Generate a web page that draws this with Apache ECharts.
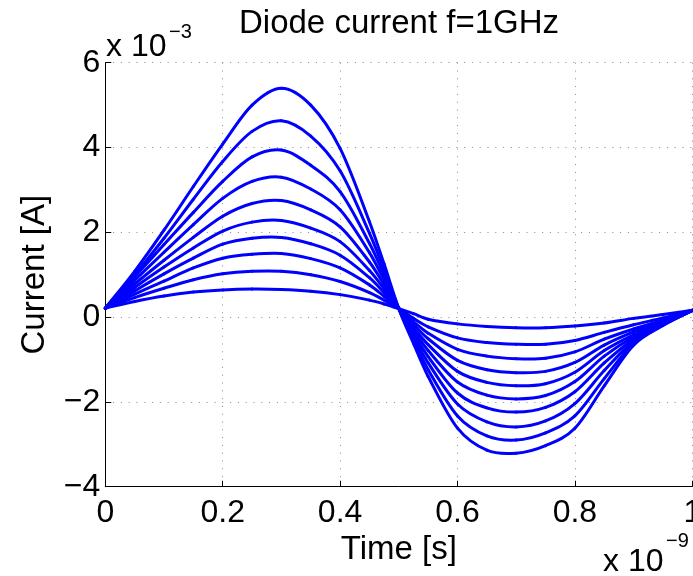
<!DOCTYPE html>
<html>
<head>
<meta charset="utf-8">
<script src="https://cdn.jsdelivr.net/npm/echarts@6/dist/echarts.min.js"></script>
<style>html,body{margin:0;padding:0;background:#fff;}#chart{width:693px;height:576px;}</style>
</head>
<body>
<div id="chart"></div>
<script>
// time in units of 1e-9 s, current in units of 1e-3 A
const time = [0, 0.05, 0.1, 0.15, 0.2, 0.25, 0.3, 0.35, 0.4, 0.45, 0.475, 0.5, 0.525, 0.55, 0.6, 0.65, 0.7, 0.75, 0.8, 0.85, 0.9, 0.95, 1.0];
const c1 = [0.21, 1.08, 2.05, 3.08, 4.08, 5.00, 5.40, 5.00, 3.98, 2.25, 1.25, 0.20, -0.62, -1.40, -2.62, -3.14, -3.21, -3.03, -2.62, -1.62, -0.66, -0.20, 0.16];
const c2 = [0.21, 1.00, 1.86, 2.78, 3.67, 4.38, 4.63, 4.27, 3.45, 1.98, 1.12, 0.20, -0.54, -1.24, -2.33, -2.80, -2.90, -2.73, -2.33, -1.45, -0.62, -0.19, 0.16];
const c3 = [0.21, 0.95, 1.71, 2.47, 3.20, 3.78, 3.94, 3.58, 2.96, 1.74, 1.00, 0.20, -0.46, -1.08, -2.05, -2.47, -2.59, -2.45, -2.04, -1.26, -0.57, -0.18, 0.16];
const c4 = [0.21, 0.87, 1.53, 2.18, 2.80, 3.20, 3.30, 3.02, 2.53, 1.52, 0.88, 0.20, -0.39, -0.93, -1.79, -2.14, -2.24, -2.13, -1.76, -1.08, -0.52, -0.16, 0.16];
const c5 = [0.21, 0.78, 1.34, 1.88, 2.38, 2.68, 2.75, 2.53, 2.13, 1.30, 0.77, 0.20, -0.32, -0.79, -1.53, -1.84, -1.93, -1.85, -1.52, -0.92, -0.47, -0.15, 0.16];
const c6 = [0.21, 0.70, 1.18, 1.63, 2.03, 2.24, 2.28, 2.10, 1.78, 1.10, 0.67, 0.20, -0.25, -0.65, -1.28, -1.54, -1.62, -1.57, -1.30, -0.79, -0.42, -0.13, 0.16];
const c7 = [0.21, 0.62, 1.02, 1.39, 1.72, 1.86, 1.88, 1.73, 1.46, 0.93, 0.58, 0.20, -0.18, -0.51, -1.02, -1.24, -1.31, -1.28, -1.07, -0.66, -0.35, -0.10, 0.16];
const c8 = [0.21, 0.54, 0.85, 1.16, 1.39, 1.48, 1.50, 1.38, 1.16, 0.76, 0.49, 0.20, -0.11, -0.38, -0.76, -0.92, -0.98, -0.97, -0.82, -0.52, -0.28, -0.07, 0.16];
const c9 = [0.21, 0.46, 0.68, 0.88, 1.02, 1.08, 1.08, 1.00, 0.84, 0.58, 0.40, 0.20, -0.03, -0.23, -0.49, -0.60, -0.64, -0.64, -0.55, -0.36, -0.18, -0.02, 0.16];
const c10 = [0.21, 0.37, 0.50, 0.59, 0.64, 0.66, 0.65, 0.61, 0.53, 0.40, 0.31, 0.20, 0.08, -0.05, -0.16, -0.22, -0.25, -0.25, -0.21, -0.14, -0.03, 0.06, 0.16];
const curves = [c1, c2, c3, c4, c5, c6, c7, c8, c9, c10];

const FONT = 'Liberation Sans, Arial, Helvetica, sans-serif';
const chart = echarts.init(document.getElementById('chart'), null, {renderer: 'canvas'});
const gridStyle = {color: '#8a8a8a', width: 1, type: [1, 6.8]};

// Smooth curve through the data points (cubic Hermite segments, positions from the axes via api.coord)
function curveSeries(vals, idx) {
  const n = time.length;
  return {
    type: 'custom',
    name: 'curve' + (idx + 1),
    coordinateSystem: 'cartesian2d',
    data: time.map((t, j) => [t, vals[j]]),
    clip: false,
    silent: true,
    renderItem: function (params, api) {
      const i = params.dataIndex;
      if (i >= n - 1) return {type: 'group', children: []};
      const P = k => api.coord([time[k], vals[k]]);
      const tangent = k => {
        const a = Math.max(k - 1, 0), b = Math.min(k + 1, n - 1);
        const pa = P(a), pb = P(b), dt = time[b] - time[a];
        return [(pb[0] - pa[0]) / dt, (pb[1] - pa[1]) / dt];
      };
      const p1 = P(i), p2 = P(i + 1), h = time[i + 1] - time[i];
      const m1 = tangent(i), m2 = tangent(i + 1);
      return {
        type: 'bezierCurve',
        shape: {
          x1: p1[0], y1: p1[1], x2: p2[0], y2: p2[1],
          cpx1: p1[0] + m1[0] * h / 3, cpy1: p1[1] + m1[1] * h / 3,
          cpx2: p2[0] - m2[0] * h / 3, cpy2: p2[1] - m2[1] * h / 3
        },
        style: {stroke: '#0000ff', lineWidth: 3, fill: 'none', lineCap: 'round', lineJoin: 'round'}
      };
    }
  };
}

chart.setOption({
  animation: false,
  backgroundColor: '#ffffff',
  title: {
    text: 'Diode current f=1GHz',
    left: 234, top: 2,
    textStyle: {fontFamily: FONT, fontSize: 33, fontWeight: 'normal', color: '#000'}
  },
  grid: {left: 105.3, top: 62.7, right: 0.7, bottom: 89.3, containLabel: false, outerBoundsMode: 'none'},
  xAxis: {
    type: 'value', min: 0, max: 1, interval: 0.2,
    name: 'Time [s]', nameLocation: 'middle', nameGap: 31,
    nameTextStyle: {fontFamily: FONT, fontSize: 33, color: '#000'},
    axisLine: {show: true, onZero: false, lineStyle: {color: '#000', width: 1}},
    axisTick: {show: true, inside: true, length: 6, lineStyle: {color: '#000'}},
    axisLabel: {fontFamily: FONT, fontSize: 32, color: '#000', margin: 10},
    splitLine: {show: true, lineStyle: gridStyle}
  },
  yAxis: {
    type: 'value', min: -4, max: 6, interval: 2,
    name: 'Current [A]', nameLocation: 'middle', nameGap: 54, nameRotate: 90,
    nameTextStyle: {fontFamily: FONT, fontSize: 33, color: '#000'},
    axisLine: {show: true, onZero: false, lineStyle: {color: '#000', width: 1}},
    axisTick: {show: true, inside: true, length: 6, lineStyle: {color: '#000'}},
    axisLabel: {fontFamily: FONT, fontSize: 32, color: '#000', margin: 5,
      formatter: v => String(v).replace('-', '\u2212')},
    splitLine: {show: true, lineStyle: gridStyle}
  },
  graphic: [
    {type: 'text', left: 106, top: 31, style: {text: 'x 10', font: '32px ' + FONT, fill: '#000'}},
    {type: 'text', left: 169, top: 22, style: {text: '\u22123', font: '20px ' + FONT, fill: '#000'}},
    {type: 'text', left: 603, top: 546, style: {text: 'x 10', font: '32px ' + FONT, fill: '#000'}},
    {type: 'text', left: 666, top: 531, style: {text: '\u22129', font: '20px ' + FONT, fill: '#000'}}
  ],
  series: curves.map((c, i) => curveSeries(c, i))
});
</script>
</body>
</html>
